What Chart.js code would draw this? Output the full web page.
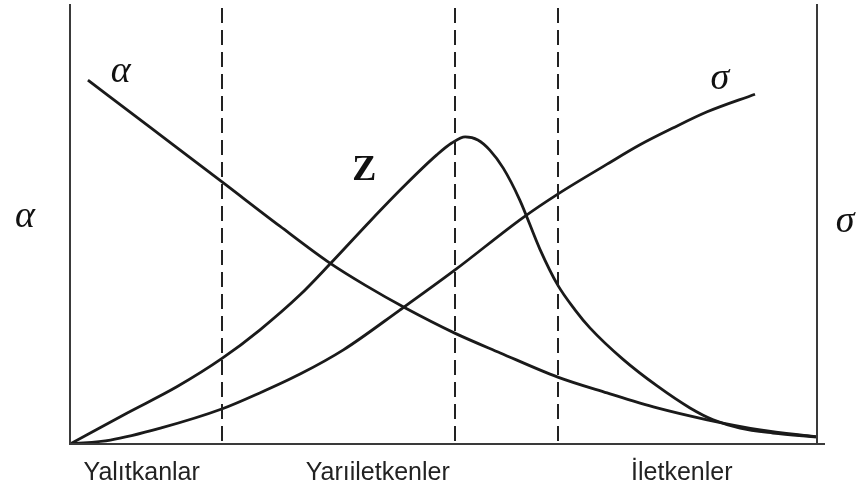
<!DOCTYPE html>
<html>
<head>
<meta charset="utf-8">
<script src="https://cdn.jsdelivr.net/npm/chart.js@4"></script>
<style>
  html, body { margin: 0; padding: 0; background: #fff; }
  #wrap { width: 859px; height: 491px; position: relative; }
</style>
</head>
<body>
<div id="wrap"><canvas id="chart"></canvas></div>
<script>
/* --------------- Curves (x: material scale 0-100, y: relative value 0-100) --------------- */
const alphaX = [2.4, 10.7, 20.4, 28.1, 34.8, 39.5, 44.9, 51.5, 57.6, 65.3, 71.9, 78.6, 85.3, 92.4, 100];
const alphaY = [82.7, 72.0, 59.5, 49.5, 41.1, 36.1, 30.9, 25.2, 20.7, 15.2, 11.6, 8.2, 5.5, 3.2, 1.6];

const zX = [0, 7.6, 14.3, 20.4, 25.4, 30.8, 34.8, 40.2, 44.6, 49.1, 51.1, 52.9, 54.6, 56.2, 58.0, 60.2, 62.9, 65.3, 67.6, 69.6, 74.0, 78.6, 83.0, 86.1, 89.7, 94.1, 100];
const zY = [0, 7.0, 13.0, 19.5, 25.9, 33.9, 40.9, 50.7, 58.4, 65.7, 68.4, 69.8, 69.1, 66.8, 62.7, 55.5, 44.3, 36.1, 30.5, 26.4, 19.3, 13.2, 8.2, 5.5, 3.6, 2.5, 1.6];

const sigmaX = [0, 5.4, 12.1, 20.4, 25.4, 30.8, 36.6, 44.2, 51.5, 60.6, 65.3, 71.9, 76.3, 80.7, 85.3, 91.7];
const sigmaY = [0, 0.9, 3.6, 8.0, 11.6, 15.9, 21.4, 30.5, 39.5, 51.4, 56.8, 63.6, 68.0, 71.8, 75.5, 79.5];

/* --------------- Regions --------------- */
const regionBounds = [20.4, 51.5, 65.3];
const regionNames = ["Yalıtkanlar", "Yarıiletkenler", "İletkenler"];
const regionCenters = [9.6, 41.2, 81.9];

const toPoints = (xs, ys) => xs.map((x, i) => ({ x: x, y: ys[i] }));

const lineStyle = {
  borderColor: "#1a1a1a",
  borderWidth: 2.8,
  pointRadius: 0,
  fill: false,
  cubicInterpolationMode: "monotone",
};

/* --------------- Frame, dashed borders and labels --------------- */
const framePlugin = {
  id: "frame",
  afterDatasetsDraw(chart) {
    const ctx = chart.ctx;
    const xs = chart.scales.x;
    const ys = chart.scales.y;
    const left = xs.getPixelForValue(0);
    const right = xs.getPixelForValue(100);
    const bottom = ys.getPixelForValue(0);
    const top = ys.getPixelForValue(100);

    ctx.save();
    // dashed region borders
    ctx.strokeStyle = "#222";
    ctx.lineWidth = 2;
    ctx.setLineDash([15, 7]);
    regionBounds.forEach((b) => {
      const px = Math.round(xs.getPixelForValue(b));
      ctx.beginPath();
      ctx.moveTo(px, top + 4);
      ctx.lineTo(px, bottom);
      ctx.stroke();
    });
    ctx.setLineDash([]);

    // axes
    ctx.strokeStyle = "#3a3a3a";
    ctx.lineWidth = 2;
    ctx.beginPath();
    ctx.moveTo(left, top);
    ctx.lineTo(left, bottom);
    ctx.lineTo(right + 8, bottom);
    ctx.moveTo(right, top);
    ctx.lineTo(right, bottom);
    ctx.stroke();

    // region names under the axis
    ctx.fillStyle = "#222";
    ctx.font = "25px 'Liberation Sans', Arial, sans-serif";
    ctx.textAlign = "center";
    ctx.textBaseline = "alphabetic";
    regionNames.forEach((name, i) => {
      ctx.fillText(name, xs.getPixelForValue(regionCenters[i]), bottom + 36);
    });

    // curve and axis symbols
    ctx.fillStyle = "#111";
    ctx.textBaseline = "middle";
    ctx.font = "italic 38px 'Liberation Serif', 'Times New Roman', serif";
    ctx.fillText("α", xs.getPixelForValue(6.8), ys.getPixelForValue(84.5));
    ctx.fillText("σ", xs.getPixelForValue(87), ys.getPixelForValue(83));
    ctx.fillText("α", 25, ys.getPixelForValue(51.5));
    ctx.fillText("σ", 845, ys.getPixelForValue(50.5));

    ctx.font = "bold 36px 'Liberation Serif', 'Times New Roman', serif";
    ctx.fillText("Z", xs.getPixelForValue(39.4), ys.getPixelForValue(62));
    ctx.restore();
  },
};

new Chart(document.getElementById("chart"), {
  type: "line",
  data: {
    datasets: [
      { label: "α", data: toPoints(alphaX, alphaY), ...lineStyle },
      { label: "Z", data: toPoints(zX, zY), ...lineStyle },
      { label: "σ", data: toPoints(sigmaX, sigmaY), ...lineStyle },
    ],
  },
  options: {
    responsive: true,
    maintainAspectRatio: false,
    animation: false,
    layout: { padding: { left: 70, right: 42, top: 4, bottom: 47 } },
    scales: {
      x: { type: "linear", min: 0, max: 100, display: false },
      y: { min: 0, max: 100, display: false },
    },
    plugins: {
      legend: { display: false },
      tooltip: { enabled: false },
    },
  },
  plugins: [framePlugin],
});
</script>
</body>
</html>
